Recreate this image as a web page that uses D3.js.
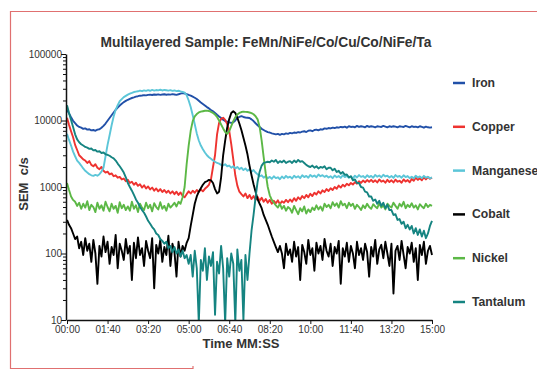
<!DOCTYPE html>
<html>
<head>
<meta charset="utf-8">
<title>Multilayered Sample</title>
<script src="https://cdn.jsdelivr.net/npm/d3@7"></script>
<style>
  body { margin: 0; background: #fff; }
  svg { display: block; font-family: "Liberation Sans", Arial, sans-serif; }
  .axis path, .axis line { stroke: #111; }
  .axis path { stroke-width: 1.5; }
  .axis text { fill: #333; font-size: 10px; font-family: "Liberation Sans", Arial, sans-serif; }
</style>
</head>
<body>
<script>

var width = 537,
    height = 370,
    step = 5; // seconds between samples

var names = ["Iron", "Copper", "Manganese", "Cobalt", "Nickel", "Tantalum"];
var colors = ["#2150a8", "#ee3330", "#5cc6d8", "#000000", "#5cb846", "#158481"];
var xTicks = [0, 100, 200, 300, 400, 500, 600, 700, 800, 900];
var yTicks = [10, 100, 1000, 10000, 100000];

// SEM counts, one value every 5 s from 00:00 to 15:00
var iron = [
  14500,12800,11200,9900,9100,8400,8000,7800,7500,7600,
  7300,7400,7100,7200,7000,7300,7400,7800,8300,9000,
  9900,10900,12000,13200,14500,15600,16800,17800,18900,19700,
  20500,21200,21800,22300,22900,23200,23600,23800,24100,23900,
  24300,24500,24200,24600,24400,24700,24300,24600,24800,24400,
  24700,24500,24900,24600,24300,24800,25400,25800,25500,24900,
  24200,23600,22800,22000,21000,19800,18600,17700,16800,15900,
  15200,14400,13800,13000,12200,11500,10900,10300,9800,9600,
  9400,9200,9400,10000,10900,11300,11600,11300,11100,11000,
  10900,10400,9800,9100,8500,8000,7500,7200,6900,6700,
  6600,6400,6300,6200,6300,6100,6300,6200,6400,6300,
  6500,6400,6600,6500,6700,6600,6800,6900,6700,7000,
  7100,6900,7200,7300,7100,7400,7300,7600,7500,7700,
  7600,7800,7700,7900,7800,8000,7900,8100,7800,8200,
  8000,8100,7900,8300,8000,8200,8100,7900,8300,8000,
  8200,8100,7900,8200,8100,8000,8300,8100,7900,8200,
  8000,8200,8100,7900,8200,8100,8000,8300,8100,7900,
  8200,8000,8100,7900,8200,8000,7800,8100,7900,7800,
  7900
];

var copper = [
  11000,8600,6900,5600,4300,3600,3000,2800,2600,2500,
  2300,2450,2150,2050,2200,1950,1850,2000,1750,1650,
  1700,1550,1600,1450,1500,1380,1420,1300,1340,1220,
  1280,1150,1200,1080,1160,1040,1100,980,1060,950,
  1020,920,980,880,950,860,930,840,900,820,
  880,800,860,780,850,760,830,740,700,780,
  860,800,880,820,900,840,920,860,940,1000,
  1080,1300,2000,3000,6200,9200,10600,11000,10200,8800,
  7000,4400,2600,1500,1050,850,780,720,800,680,
  760,660,730,640,710,620,690,600,660,580,
  640,560,620,570,630,550,610,580,640,590,
  650,600,680,620,700,650,730,680,760,700,
  790,730,820,770,860,800,890,840,930,870,
  960,900,1000,940,1050,980,1080,1020,1120,1060,
  1150,1090,1180,1120,1220,1150,1250,1180,1270,1200,
  1280,1190,1260,1170,1300,1200,1250,1160,1280,1190,
  1260,1170,1290,1200,1240,1160,1300,1210,1270,1180,
  1320,1240,1380,1280,1350,1260,1400,1300,1420,1330,
  1380
];

var manganese = [
  6300,5100,4200,3400,2900,2500,2300,2100,1900,1750,
  1650,1560,1500,1470,1520,1480,1560,1700,1950,2900,
  4300,6000,8500,11500,14500,17000,19500,21000,22500,23500,
  24500,25300,26000,26800,27200,27500,28200,27600,28400,27900,
  28600,28000,28800,28200,28700,28400,29000,28300,28800,28500,
  28100,28600,27900,28300,27700,28000,27400,27000,26200,24000,
  20000,16000,12000,8800,6400,5000,4200,3700,3300,3000,
  2800,2650,2500,2400,2300,2250,2150,2100,2200,2050,
  2100,1950,2050,1900,2000,1850,1950,1800,1900,1750,
  1850,1700,1800,1650,1550,1450,1500,1380,1460,1350,
  1420,1330,1450,1360,1400,1310,1440,1350,1470,1380,
  1430,1340,1480,1390,1450,1360,1500,1410,1470,1380,
  1520,1430,1490,1400,1540,1450,1510,1420,1480,1390,
  1450,1360,1490,1400,1460,1370,1500,1410,1470,1380,
  1440,1350,1480,1390,1510,1420,1460,1370,1500,1410,
  1470,1380,1520,1430,1490,1400,1530,1440,1480,1390,
  1460,1370,1510,1420,1470,1380,1500,1410,1460,1360,
  1430,1350,1480,1390,1440,1360,1470,1380,1420,1350,
  1400
];

var cobalt = [
  320,270,240,200,165,180,120,150,95,170,
  110,140,75,160,100,35,130,90,180,105,
  150,70,125,95,190,60,140,110,80,165,
  100,130,40,145,85,175,95,120,65,155,
  110,85,170,30,135,100,160,75,125,95,
  185,65,140,105,45,150,90,130,110,145,
  170,260,380,560,720,850,960,1080,1180,1220,
  1280,1260,1150,930,800,850,1400,3000,5000,7800,
  10500,13000,13800,13000,11000,9000,7200,5500,4200,3100,
  2100,1500,1100,850,650,560,480,380,320,270,
  220,180,150,125,105,130,100,60,140,95,
  115,75,150,90,125,40,135,105,70,160,
  95,120,55,145,100,130,80,165,110,90,
  140,65,125,100,155,35,120,90,145,75,
  130,100,60,150,95,120,80,140,105,45,
  125,90,160,70,115,135,85,150,100,65,
  140,25,110,130,80,155,95,60,125,100,
  145,75,120,40,135,95,150,70,110,130,
  95
];

var nickel = [
  1150,900,720,640,600,520,580,470,560,490,
  610,450,540,500,420,580,470,530,440,600,
  500,430,560,470,520,410,590,480,540,450,
  510,440,600,470,530,420,560,490,450,580,
  480,540,430,570,500,460,590,470,520,440,
  560,490,530,580,510,600,560,700,1000,2200,
  4200,7000,9800,11500,12500,13200,13600,13800,14000,14100,
  13900,13500,13000,12300,11300,10000,8700,7600,6700,6300,
  6900,8200,9800,11200,12300,13000,13400,13600,13500,13400,
  13200,12900,12400,11600,10400,8000,5000,2800,1600,1000,
  750,640,580,530,490,560,470,520,440,500,
  470,410,520,450,390,480,430,510,400,460,
  420,490,450,530,460,510,440,560,500,540,
  480,590,520,570,490,610,530,560,480,580,
  520,560,470,540,500,450,530,480,560,500,
  470,550,510,480,570,490,530,460,560,520,
  490,580,520,470,560,510,600,480,540,500,
  570,490,530,460,550,510,480,560,500,540,
  520
];

var tantalum = [
  17000,13000,10200,8000,6200,5200,4700,4400,4200,4000,
  3900,3750,3800,3550,3600,3400,3450,3250,3300,3100,
  3050,2950,2800,2700,2500,2250,2050,1850,1650,1400,
  1150,1000,880,760,650,580,500,450,410,360,
  310,280,250,230,200,190,165,155,140,150,
  120,130,105,125,100,115,90,110,85,95,
  70,95,45,110,60,9,80,55,120,40,
  90,65,105,12,75,50,130,60,9,85,
  45,100,70,9,115,55,80,10,95,40,
  100,220,380,700,1200,1700,2100,2300,2350,2400,
  2350,2500,2400,2550,2300,2450,2350,2500,2300,2400,
  2450,2300,2500,2350,2550,2400,2450,2300,2150,2050,
  2000,2100,1950,2050,1900,2000,1950,2050,1850,1950,
  1950,1780,1880,1680,1760,1580,1680,1520,1540,1400,
  1450,1260,1300,1150,1150,1000,980,850,830,720,
  720,620,650,560,620,520,580,480,540,450,
  450,380,390,320,330,280,300,240,270,230,
  260,200,240,190,230,180,220,170,200,260,
  310
];

var series = [iron, copper, manganese, cobalt, nickel, tantalum];

var x = d3.scaleLinear()
    .domain([0, 900])
    .range([67, 432]);

var y = d3.scaleLog()
    .domain([10, 100000])
    .range([320, 54]);

var svg = d3.select("body").append("svg")
    .attr("width", width)
    .attr("height", height);

// frame of the original screenshot
svg.append("path")
    .attr("d", "M537,11.5H10.5V368.5H193V366")
    .attr("fill", "none")
    .attr("stroke", "#e07070")
    .attr("stroke-width", 1.2);

svg.append("clipPath")
    .attr("id", "plot")
  .append("rect")
    .attr("x", 67).attr("y", 40)
    .attr("width", 370).attr("height", 280);

var line = d3.line()
    .x(function(d, i){ return x(i * step); })
    .y(function(d){ return y(d); });

svg.append("g")
    .attr("clip-path", "url(#plot)")
  .selectAll("path.line")
    .data(series)
  .enter()
    .append("path")
    .attr("class", "line")
    .attr("d", function(d){ return line(d); })
    .attr("fill", "none")
    .attr("stroke", function(d, i){ return colors[i]; })
    .attr("stroke-width", 1.9)
    .attr("stroke-linejoin", "round");

renderAxes(svg);

function mmss(s){
    var m = Math.floor(s / 60), r = s % 60;
    return (m < 10 ? "0" : "") + m + ":" + (r < 10 ? "0" : "") + r;
}

function renderAxes(svg){
    var minor = [];
    yTicks.slice(0, -1).forEach(function(d){
        for (var k = 2; k < 10; k++) minor.push(d * k);
    });

    svg.append("g")
        .attr("class", "axis")
        .attr("transform", "translate(66,0)")
        .call(d3.axisLeft(y).tickValues(minor).tickSize(3).tickFormat(""))
        .select(".domain").remove();

    svg.append("g")
        .attr("class", "axis")
        .attr("transform", "translate(66,0)")
        .call(d3.axisLeft(y).tickValues(yTicks).tickSize(5).tickSizeOuter(0)
            .tickFormat(d3.format("d")))
        .selectAll(".tick text").attr("x", -4);

    svg.append("g")
        .attr("class", "axis")
        .attr("transform", "translate(0,320)")
        .call(d3.axisBottom(x).tickValues(xTicks).tickSize(4).tickSizeOuter(0)
            .tickFormat(mmss))
        .selectAll(".tick text").attr("y", 6);
}

svg.append("text")
    .attr("x", 266).attr("y", 47)
    .attr("text-anchor", "middle")
    .attr("font-size", 13.8).attr("font-weight", "bold")
    .attr("fill", "#333")
    .text("Multilayered Sample: FeMn/NiFe/Co/Cu/Co/NiFe/Ta");

svg.append("text")
    .attr("x", 241).attr("y", 348)
    .attr("text-anchor", "middle")
    .attr("font-size", 13).attr("font-weight", "bold")
    .attr("fill", "#333")
    .text("Time MM:SS");

svg.append("text")
    .attr("transform", "translate(28,184) rotate(-90)")
    .attr("text-anchor", "middle")
    .attr("font-size", 13).attr("font-weight", "bold")
    .attr("fill", "#333")
    .style("white-space", "pre")
    .text("SEM  c/s");

var legend = svg.selectAll("g.legend")
    .data(names)
  .enter()
    .append("g")
    .attr("class", "legend")
    .attr("transform", function(d, i){ return "translate(453," + (87 + i * 43.8) + ")"; });

legend.append("line")
    .attr("x1", 0).attr("x2", 12)
    .attr("y1", -4).attr("y2", -4)
    .attr("stroke", function(d, i){ return colors[i]; })
    .attr("stroke-width", 2.5);

legend.append("text")
    .attr("x", 19).attr("y", 0)
    .attr("font-size", 12.2).attr("font-weight", "bold")
    .attr("fill", "#333")
    .text(function(d){ return d; });

</script>
</body>
</html>
